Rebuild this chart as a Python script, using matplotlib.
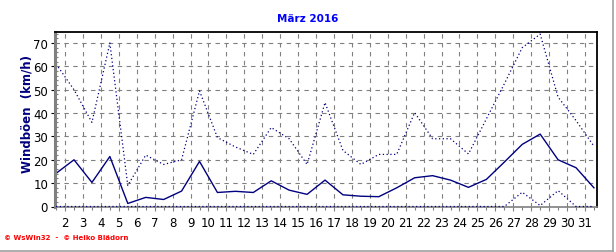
import matplotlib
matplotlib.use("Agg")
import matplotlib.pyplot as plt
from matplotlib.lines import Line2D
from matplotlib.ticker import MultipleLocator
import numpy as np

# values sit in the middle of each day (1.5 .. 31.5)
days = np.arange(1, 32) + 0.5

boeen_max = [61, 50, 36, 70, 9, 22, 18, 20, 49.5, 29.5, 25.5, 22.3, 33.8, 29, 18, 44.5,
             24, 18, 22.3, 22.3, 40.2, 29, 29, 22.5, 37.5, 52.5, 68, 73.8, 46.8, 36.8, 25.8]
boeen_mittel = [14.2, 20, 10.3, 21.4, 1.3, 3.9, 3, 6.6, 19.3, 6, 6.5, 6, 11, 7, 5.2, 11.3,
                5, 4.4, 4.2, 8, 12.3, 13.2, 11.3, 8.2, 11.6, 19, 26.6, 31, 20, 16.6, 8]
boeen_min = [0, 0, 0, 0, 0, 0, 0, 0, 0, 0, 0, 0, 0, 0, 0, 0,
             0, 0, 0, 0, 0, 0, 0, 0, 0, 0, 6.1, 0.4, 6.8, 0, 0]

xticks = list(range(2, 32))
yticks = [0, 10, 20, 30, 40, 50, 60, 70]

navy = "#000080"
grid_col = "#808080"

fig = plt.figure(figsize=(6.16, 2.53), dpi=100)
ax = fig.add_axes([55 / 616, 1 - 207.5 / 253, 542 / 616, 174.5 / 253])

ax.plot(days, boeen_max, color=navy, lw=0.9, linestyle=(0, (1, 2)))
ax.plot(days, boeen_mittel, color=navy, lw=1.0)
ax.plot(days, boeen_min, color=navy, lw=0.9, linestyle=(0, (1, 2)), clip_on=False, zorder=5)

ax.set_xlim(1.44, 31.67)
ax.set_ylim(0, 74.7)
ax.set_xticks(xticks)
ax.set_yticks(yticks)
ax.xaxis.set_minor_locator(MultipleLocator(0.5))
ax.yaxis.set_minor_locator(MultipleLocator(2))

ax.grid(True, which="major", color=grid_col, linestyle=(0, (4, 4)), lw=0.8)
ax.set_axisbelow(True)

ax.tick_params(axis="both", which="major", labelsize=8.5, length=3, width=0.8,
               color="black", pad=2)
ax.tick_params(axis="x", which="major", pad=4, color=grid_col)
ax.tick_params(axis="x", which="minor", length=2, width=0.8, color=grid_col, direction="out")
ax.tick_params(axis="y", which="minor", length=2, width=0.8, color=grid_col, direction="in")

for side in ["top", "right"]:
    ax.spines[side].set_color("black")
    ax.spines[side].set_linewidth(1.3)
ax.spines["left"].set_color(grid_col)
ax.spines["left"].set_linewidth(2.2)
ax.spines["bottom"].set_color(grid_col)
ax.spines["bottom"].set_linewidth(1.2)

fig.text(0.5, 1 - 19.5 / 253, "März 2016", ha="center", va="center",
         color="#0000FF", fontsize=7.5, fontweight="bold")
fig.text(27 / 616, 1 - 114 / 253, "Windböen  (km/h)", ha="center", va="center",
         rotation=90, color=navy, fontsize=8.5, fontweight="bold")
fig.text(4 / 616, 1 - 238.5 / 253, "© WsWin32  -  © Heiko Blädorn", ha="left", va="center",
         color="#FF0000", fontsize=5, fontweight="bold")

# light frame at right and bottom of the picture
fig.add_artist(Line2D([0, 613 / 616], [1 - 251.5 / 253] * 2, color="#A0A0A0", lw=1.2,
                      transform=fig.transFigure))
fig.add_artist(Line2D([613 / 616] * 2, [1 - 251.5 / 253, 1], color="#A0A0A0", lw=1.2,
                      transform=fig.transFigure))

fig.savefig("out.png", dpi=100)
